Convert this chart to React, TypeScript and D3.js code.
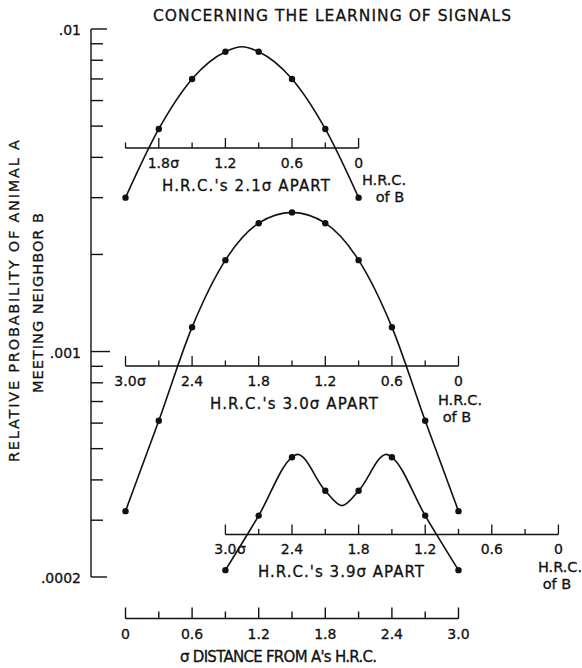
import React from 'react';
import * as d3 from 'd3';

const W = 582;
const H = 668;
const FONT = '"DejaVu Sans", "Liberation Sans", sans-serif';
const INK = '#111';

// Distance from A's home-range centre (sigma units)
const distanceTicks = [0, 0.3, 0.6, 0.9, 1.2, 1.5, 1.8, 2.1, 2.4, 2.7, 3.0];
const distanceLabels = [0, 0.6, 1.2, 1.8, 2.4, 3.0];

// Relative probability (log axis)
const probTicks = [
  0.0002, 0.0003, 0.0004, 0.0005, 0.0006, 0.0007, 0.0008, 0.0009,
  0.001, 0.002, 0.003, 0.004, 0.005, 0.006, 0.007, 0.008, 0.009, 0.01,
];
const probLabelValues = [0.01, 0.001, 0.0002];
const probLabelText = ['.01', '.001', '.0002'];

// Home-range centres 2.1 sigma apart: plotted points
const dist21 = [0, 0.3, 0.6, 0.9, 1.2, 1.5, 1.8, 2.1];
const prob21 = [0.003, 0.0049, 0.007, 0.0085, 0.0085, 0.007, 0.0049, 0.003];
// crest of the drawn curve
const crestDist21 = [1.05];
const crestProb21 = [0.00881];

// Home-range centres 3.0 sigma apart: plotted points
const dist30 = [0, 0.3, 0.6, 0.9, 1.2, 1.5, 1.8, 2.1, 2.4, 2.7, 3.0];
const prob30 = [0.00032, 0.00061, 0.00119, 0.00192, 0.0025, 0.0027, 0.0025, 0.00192, 0.00119, 0.00061, 0.00032];
const crestDist30: number[] = [];
const crestProb30: number[] = [];

// Home-range centres 3.9 sigma apart: plotted points
const dist39 = [0.9, 1.2, 1.5, 1.8, 2.1, 2.4, 2.7, 3.0];
const prob39 = [0.00021, 0.00031, 0.00047, 0.00037, 0.00037, 0.00047, 0.00031, 0.00021];
// two crests and the trough of the drawn curve
const crestDist39 = [1.55, 1.95, 2.35];
const crestProb39 = [0.00048, 0.000333, 0.00048];

// Distance-from-B scales drawn under each curve
const inset21Ticks = [0, 0.3, 0.6, 0.9, 1.2, 1.5, 1.8, 2.1];
const inset21Labels = [1.8, 1.2, 0.6, 0];
const inset30Ticks = [0, 0.3, 0.6, 0.9, 1.2, 1.5, 1.8, 2.1, 2.4, 2.7, 3.0];
const inset30Labels = [3.0, 2.4, 1.8, 1.2, 0.6, 0];
const inset39Ticks = [0, 0.3, 0.6, 0.9, 1.2, 1.5, 1.8, 2.1, 2.4, 2.7, 3.0];
const inset39Labels = [3.0, 2.4, 1.8, 1.2, 0.6, 0];

const x = d3.scaleLinear().domain([0, 3]).range([125.5, 458.5]);
const y = d3.scaleLog().domain([0.0002, 0.01]).range([577, 29]);

const fmt = (v: number) => (v === 0 ? '0' : v.toFixed(1));

type Inset = {
  sep: number;
  ticks: number[];
  labels: number[];
  axisY: number;
  caption: string;
  captionX: number;
  captionLen: number;
  hrcX: number;
  ofBX: number;
  hrcDy: number;
};

const insets: Inset[] = [
  { sep: 2.1, ticks: inset21Ticks, labels: inset21Labels, axisY: 148, caption: "H.R.C.'s 2.1\u03c3 APART", captionX: 162, captionLen: 168, hrcX: 384, ofBX: 390, hrcDy: 37 },
  { sep: 3.0, ticks: inset30Ticks, labels: inset30Labels, axisY: 366, caption: "H.R.C.'s 3.0\u03c3 APART", captionX: 210, captionLen: 168, hrcX: 460, ofBX: 457, hrcDy: 39 },
  { sep: 3.9, ticks: inset39Ticks, labels: inset39Labels, axisY: 534.5, caption: "H.R.C.'s 3.9\u03c3 APART", captionX: 258, captionLen: 166, hrcX: 560, ofBX: 557, hrcDy: 37.5 },
];

const series = [
  { d: dist21, p: prob21, cd: crestDist21, cp: crestProb21 },
  { d: dist30, p: prob30, cd: crestDist30, cp: crestProb30 },
  { d: dist39, p: prob39, cd: crestDist39, cp: crestProb39 },
];

// lettering is slightly heavier than a regular sans
const ink = { fill: INK, stroke: INK, strokeWidth: 0.3 };

export default function App() {
  const yAxisX = 91;
  return (
    <svg
      width={W}
      height={H}
      viewBox={`0 0 ${W} ${H}`}
      style={{ position: 'absolute', left: 0, top: 0, background: '#fff' }}
      fontFamily={FONT}
    >
      <rect width={W} height={H} fill="#fff" />

      {/* Title */}
      <text x={153} y={21} fontSize={15.5} textLength={358} lengthAdjust="spacing" {...ink}>
        CONCERNING THE LEARNING OF SIGNALS
      </text>

      {/* Y axis */}
      <line x1={yAxisX} x2={yAxisX} y1={y(0.01)} y2={y(0.0002)} stroke={INK} strokeWidth={1.4} />
      {probTicks.map((v) => {
        const major = probLabelValues.includes(v);
        const len = v === 0.001 ? 19 : major ? 16 : 12;
        return (
          <line key={v} x1={yAxisX} x2={yAxisX + len} y1={y(v)} y2={y(v)} stroke={INK} strokeWidth={1.4} />
        );
      })}
      {probLabelValues.map((v, i) => (
        <text key={v} x={81} y={y(v) + 6} fontSize={14} textAnchor="end" {...ink}>
          {probLabelText[i]}
        </text>
      ))}

      {/* Y axis title */}
      <text transform="translate(18.5,301) rotate(-90)" fontSize={14.5} textAnchor="middle" textLength={322} lengthAdjust="spacing" {...ink}>
        RELATIVE PROBABILITY OF ANIMAL A
      </text>
      <text transform="translate(43,303) rotate(-90)" fontSize={14.5} textAnchor="middle" textLength={180} lengthAdjust="spacing" {...ink}>
        MEETING NEIGHBOR B
      </text>

      {/* Bottom distance axis */}
      <line x1={x(0)} x2={x(3)} y1={618.5} y2={618.5} stroke={INK} strokeWidth={1.4} />
      {distanceTicks.map((d) => {
        const major = distanceLabels.includes(d);
        return (
          <line key={d} x1={x(d)} x2={x(d)} y1={618.5} y2={618.5 - (major ? 11 : 7)} stroke={INK} strokeWidth={1.4} />
        );
      })}
      {distanceLabels.map((d) => (
        <text key={d} x={x(d)} y={638.5} fontSize={14} textAnchor="middle" {...ink}>
          {fmt(d)}
        </text>
      ))}
      <text x={180} y={662} fontSize={15} textLength={197} lengthAdjust="spacing" {...ink}>
        {"\u03c3 DISTANCE FROM A's H.R.C."}
      </text>

      {/* Distance-from-B scales */}
      {insets.map((ins) => {
        const bx = (d: number) => x(ins.sep - d);
        const maxLabel = Math.max(...ins.labels);
        return (
          <g key={ins.sep}>
            <line
              x1={bx(Math.max(...ins.ticks))}
              x2={bx(0)}
              y1={ins.axisY}
              y2={ins.axisY}
              stroke={INK}
              strokeWidth={1.3}
            />
            {ins.ticks.map((d) => {
              const major = ins.labels.includes(d);
              return (
                <line key={d} x1={bx(d)} x2={bx(d)} y1={ins.axisY} y2={ins.axisY - (major ? 10 : 5.5)} stroke={INK} strokeWidth={1.3} />
              );
            })}
            {ins.labels.map((d) => (
              <g key={d}>
                <text x={bx(d)} y={ins.axisY + 19.5} fontSize={14} textAnchor="middle" {...ink}>
                  {fmt(d)}
                </text>
                {d === maxLabel && (
                  <text x={bx(d) + 11.5} y={ins.axisY + 19.5} fontSize={14} {...ink}>
                    {'\u03c3'}
                  </text>
                )}
              </g>
            ))}
            <text x={ins.captionX} y={ins.axisY + 42.5} fontSize={15} textLength={ins.captionLen} lengthAdjust="spacing" {...ink}>
              {ins.caption}
            </text>
            <text x={ins.hrcX} y={ins.axisY + ins.hrcDy} fontSize={14.5} textAnchor="middle" {...ink}>
              H.R.C.
            </text>
            <text x={ins.ofBX} y={ins.axisY + ins.hrcDy + 16.5} fontSize={14.5} textAnchor="middle" {...ink}>
              of B
            </text>
          </g>
        );
      })}

      {/* Probability curves */}
      {series.map((s, si) => {
        const pts: [number, number][] = s.d.map((d, i) => [x(d), y(s.p[i])]);
        const extra: [number, number][] = s.cd.map((d, i) => [x(d), y(s.cp[i])]);
        const linePts = [...pts, ...extra].sort((a, b) => a[0] - b[0]);
        const path = d3.line().curve(d3.curveMonotoneX)(linePts) || '';
        return (
          <g key={si}>
            <path d={path} fill="none" stroke={INK} strokeWidth={1.6} />
            {pts.map(([px, py], i) => (
              <circle key={i} cx={px} cy={py} r={3.2} fill={INK} />
            ))}
          </g>
        );
      })}
    </svg>
  );
}
